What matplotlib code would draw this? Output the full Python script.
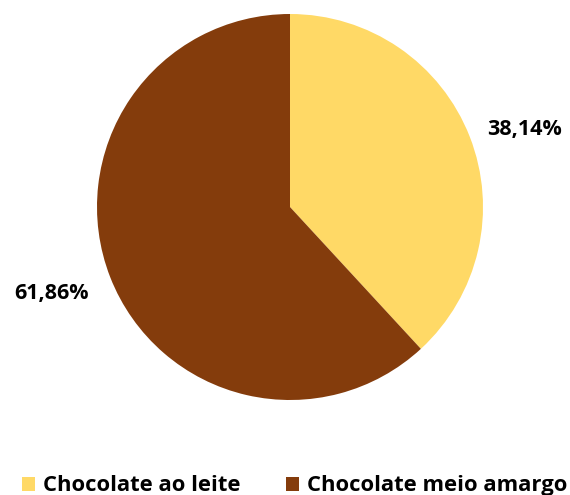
import matplotlib
matplotlib.use("Agg")
import matplotlib.pyplot as plt
from matplotlib.patches import Rectangle

categories = ["Chocolate ao leite", "Chocolate meio amargo"]
values = [38.14, 61.86]
labels = ["38,14%", "61,86%"]
colors = ["#FFD966", "#843C0C"]

W, H = 570, 495
fig = plt.figure(figsize=(W / 100, H / 100), dpi=100)
ax = fig.add_axes([0, 0, 1, 1])
cx, cy, r = 290, 207, 193
ax.pie(values, colors=colors, startangle=90, counterclock=False, radius=1,
       wedgeprops=dict(linewidth=0))
ax.set_aspect("auto")
ax.set_xlim(-cx / r, (W - cx) / r)
ax.set_ylim(-(H - cy) / r, cy / r)
ax.axis("off")

font = dict(family=["Open Sans", "DejaVu Sans"], fontweight="bold", color="black")
ax.text((525 - cx) / r, (cy - 135) / r, labels[0], ha="center", va="baseline", fontsize=15.5, **font)
ax.text((51.5 - cx) / r, (cy - 299) / r, labels[1], ha="center", va="baseline", fontsize=15.5, **font)

# legend
for x_sq, x_txt, col, name in [(22, 43, colors[0], categories[0]), (286, 307, colors[1], categories[1])]:
    fig.patches.append(Rectangle((x_sq / W, 1 - 491 / H), 13 / W, 14 / H,
                                 transform=fig.transFigure, facecolor=col, edgecolor="none"))
    fig.text(x_txt / W, 1 - 491 / H, name, ha="left", va="baseline", fontsize=15.8, **font)

fig.savefig("out.png", dpi=100)
